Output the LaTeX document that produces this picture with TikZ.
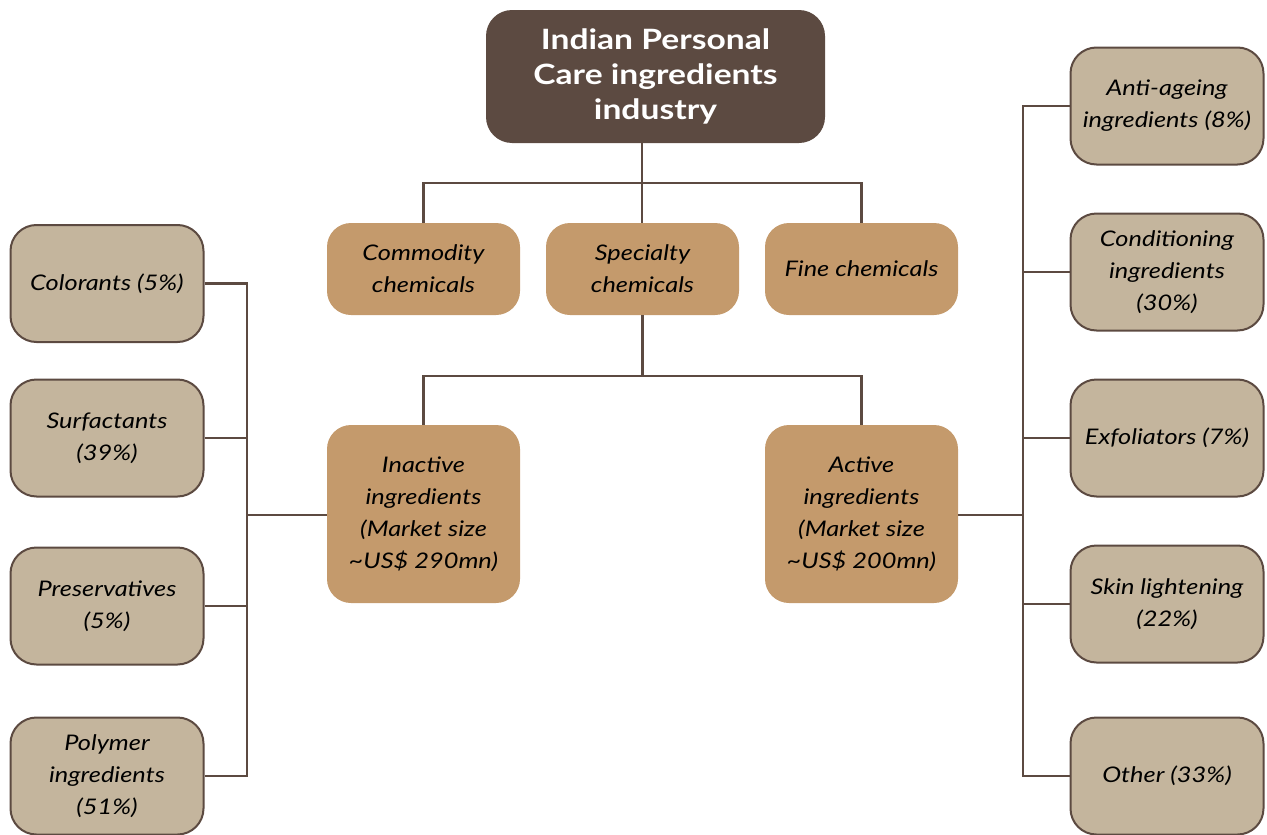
\documentclass[tikz,border=0pt]{standalone}
\usepackage{fontspec}
\setmainfont[FakeStretch=1.18]{Lato}
\newfontfamily\titlefont[FakeStretch=1.2]{Lato}
\definecolor{darkbrown}{HTML}{5C4A41}
\definecolor{midtan}{HTML}{C49A6C}
\definecolor{greytan}{HTML}{C4B59D}
\tikzset{
  conn/.style={draw=darkbrown, line width=2.6pt},
  topbox/.style={fill=darkbrown, rounded corners=26pt, minimum width=339pt, minimum height=133pt, align=center, text=white, font=\titlefont\fontsize{28}{35}\selectfont\bfseries},
  midbox/.style={fill=midtan, rounded corners=24pt, minimum width=193pt, align=center, font=\fontsize{21.5}{32}\selectfont\itshape},
  leafbox/.style={fill=greytan, draw=darkbrown, line width=2pt, rounded corners=26pt, minimum width=193pt, minimum height=117pt, align=center, font=\fontsize{21.5}{32}\selectfont\itshape},
}
\begin{document}
\begin{tikzpicture}[x=1pt,y=-1pt]
\useasboundingbox (0,0) rectangle (1267,835);
% top
\node[topbox] (top) at (655.5,76.5) {Indian Personal\\Care ingredients\\industry};
% level 2
\node[midbox, minimum height=92pt] (comm) at (423.5,269) {Commodity\\chemicals};
\node[midbox, minimum height=92pt] (spec) at (642.5,269) {Specialty\\chemicals};
\node[midbox, minimum height=92pt] (fine) at (861.5,269) {Fine chemicals};
% level 3
\node[midbox, minimum height=178pt] (inact) at (423.5,514) {Inactive\\ingredients\\(Market size\\\textasciitilde US\$ 290mn)};
\node[midbox, minimum height=178pt] (act) at (861.5,514) {Active\\ingredients\\(Market size\\\textasciitilde US\$ 200mn)};
% left leaves
\node[leafbox] (col) at (107,283.5) {Colorants (5\%)};
\node[leafbox] (surf) at (107,438) {Surfactants\\(39\%)};
\node[leafbox] (pres) at (107,606) {Preservatives\\(5\%)};
\node[leafbox] (poly) at (107,776) {Polymer\\ingredients\\(51\%)};
% right leaves
\node[leafbox] (anti) at (1167,106) {Anti-ageing\\ingredients (8\%)};
\node[leafbox] (cond) at (1167,272) {Conditioning\\ingredients\\(30\%)};
\node[leafbox] (exf) at (1167,438) {Exfoliators (7\%)};
\node[leafbox] (skin) at (1167,604) {Skin lightening\\(22\%)};
\node[leafbox] (oth) at (1167,776) {Other (33\%)};
% bus coordinates
\coordinate (b1) at (642,183);
\coordinate (b2) at (642,376);
\coordinate (lb) at (247,515);
\coordinate (rb) at (1023,515);
% top connectors
\draw[conn] (top.south -| b1) -- (spec.north -| b1);
\draw[conn] (comm.north) -- (comm.north |- b1) -- (fine.north |- b1) -- (fine.north);
% specialty to level 3
\draw[conn] (spec.south) -- (spec.south |- b2);
\draw[conn] (inact.north) -- (inact.north |- b2) -- (act.north |- b2) -- (act.north);
% left bus
\draw[conn] (inact.west |- lb) -- (lb);
\draw[conn] (col.east) -- (col.east -| lb) -- (poly.east -| lb) -- (poly.east);
\draw[conn] (surf.east) -- (surf.east -| lb);
\draw[conn] (pres.east) -- (pres.east -| lb);
% right bus
\draw[conn] (act.east |- rb) -- (rb);
\draw[conn] (anti.west) -- (anti.west -| rb) -- (oth.west -| rb) -- (oth.west);
\draw[conn] (cond.west) -- (cond.west -| rb);
\draw[conn] (exf.west) -- (exf.west -| rb);
\draw[conn] (skin.west) -- (skin.west -| rb);
\end{tikzpicture}
\end{document}
